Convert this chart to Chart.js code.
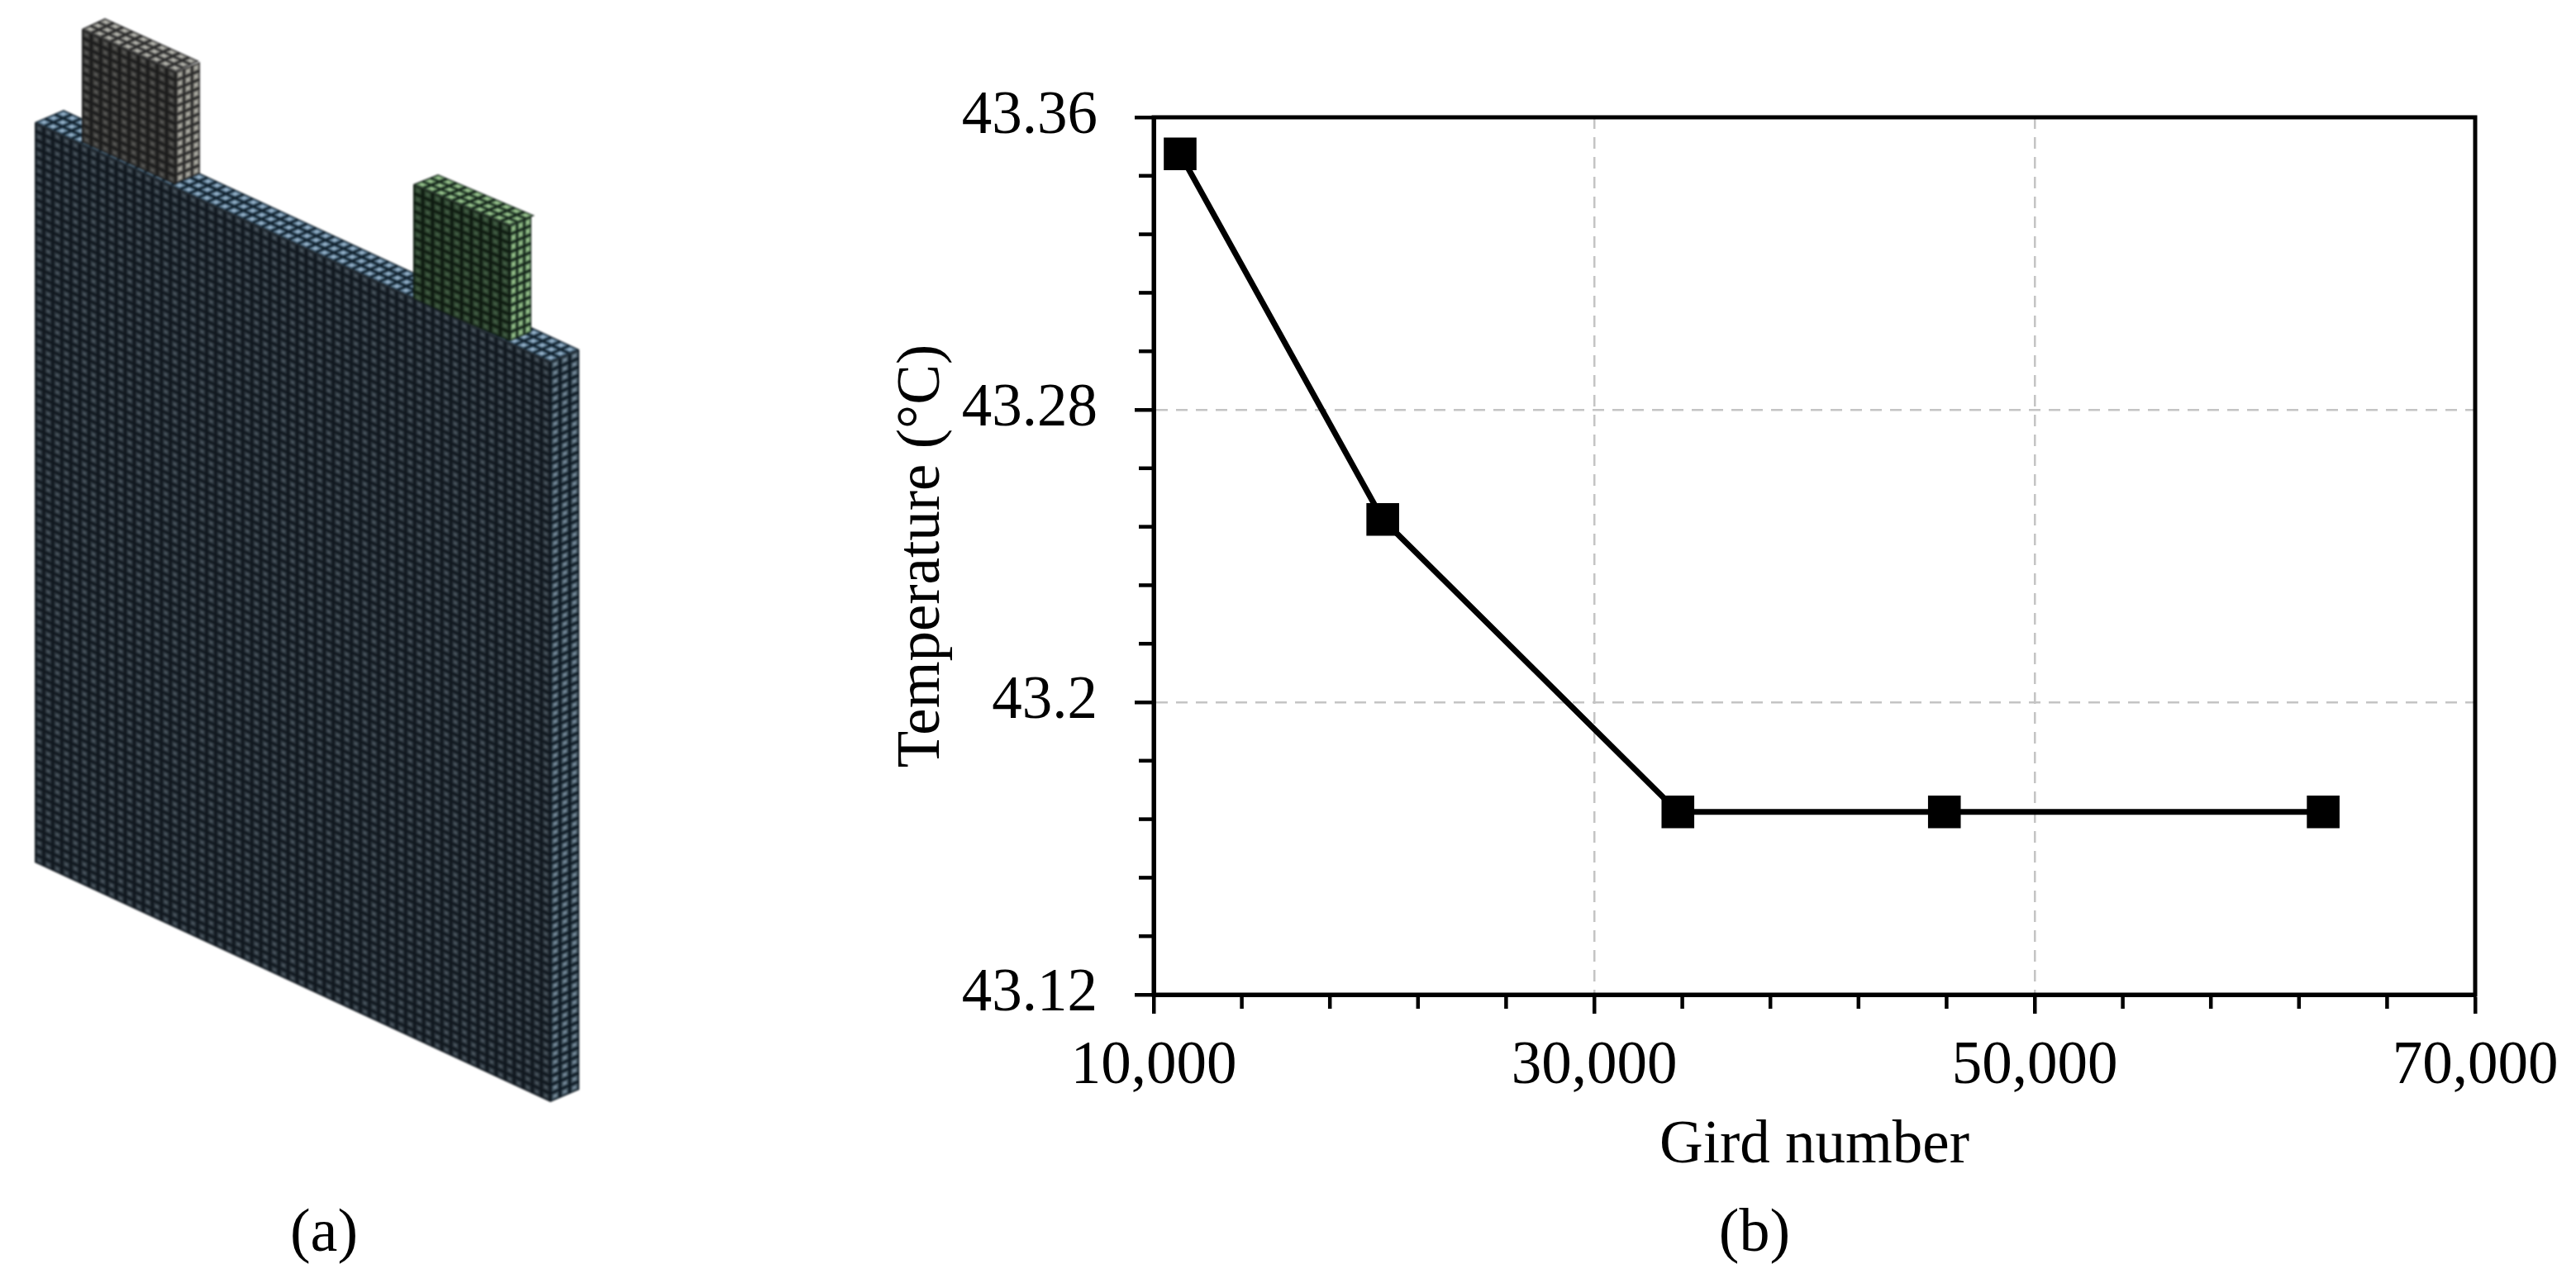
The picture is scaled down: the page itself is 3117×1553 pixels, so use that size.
<!DOCTYPE html>
<html>
<head>
<meta charset="utf-8">
<title>Grid independence</title>
<script src="https://cdn.jsdelivr.net/npm/chart.js@4"></script>
<style>
  html, body { margin: 0; padding: 0; background: #fff; }
  body { width: 3117px; height: 1553px; position: relative; overflow: hidden; }
  canvas { position: absolute; left: 0; top: 0; }
  #mesh { filter: blur(0.8px); }
  .caption {
    position: absolute; top: 1443px; width: 200px; text-align: center;
    font: 74px/92px "Liberation Serif", serif; color: #000;
  }
</style>
</head>
<body>
<canvas id="mesh" width="760" height="1400"></canvas>
<canvas id="myChart" width="3117" height="1553"></canvas>
<div class="caption" style="left: 292px">(a)</div>
<div class="caption" style="left: 2023px">(b)</div>
<script>
// Values
const gridNumbers = [11200, 20400, 33800, 45900, 63100];
const temperatures = [43.35, 43.25, 43.17, 43.17, 43.17];

const xTickValues = [10000, 30000, 50000, 70000];
const xTickLabels = ['10,000', '30,000', '50,000', '70,000'];
const xMinorTicks = [14000, 18000, 22000, 26000, 34000, 38000, 42000, 46000, 54000, 58000, 62000, 66000];

const yTickValues = [43.12, 43.2, 43.28, 43.36];
const yTickLabels = ['43.12', '43.2', '43.28', '43.36'];
const yMinorTicks = [43.136, 43.152, 43.168, 43.184, 43.216, 43.232, 43.248, 43.264, 43.296, 43.312, 43.328, 43.344];

const xTitle = 'Gird number';
const yTitle = 'Temperature (°C)';

// Left panel: the meshed cell is an illustration, not data
const meshCtx = document.getElementById('mesh').getContext('2d');

function drawFace(origin, u, v, nu, nv, lineColor, cellColor, lightColor) {
  meshCtx.fillStyle = lineColor;
  meshCtx.beginPath();
  meshCtx.moveTo(origin[0], origin[1]);
  meshCtx.lineTo(origin[0] + u[0], origin[1] + u[1]);
  meshCtx.lineTo(origin[0] + u[0] + v[0], origin[1] + u[1] + v[1]);
  meshCtx.lineTo(origin[0] + v[0], origin[1] + v[1]);
  meshCtx.closePath();
  meshCtx.fill();

  // one parallelogram per cell, inset so the dark mesh lines stay visible
  function cell(i, j, inset, color) {
    const pt = (a, b) => [
      origin[0] + u[0] * (i + a) / nu + v[0] * (j + b) / nv,
      origin[1] + u[1] * (i + a) / nu + v[1] * (j + b) / nv
    ];
    const corners = [pt(inset, inset), pt(1 - inset, inset), pt(1 - inset, 1 - inset), pt(inset, 1 - inset)];
    meshCtx.fillStyle = color;
    meshCtx.beginPath();
    corners.forEach((c, k) => k ? meshCtx.lineTo(c[0], c[1]) : meshCtx.moveTo(c[0], c[1]));
    meshCtx.closePath();
    meshCtx.fill();
  }
  for (let i = 0; i < nu; i++) {
    for (let j = 0; j < nv; j++) {
      cell(i, j, 0.14, cellColor);
      cell(i, j, 0.32, lightColor);
    }
  }
}

// panel top and side
drawFace([42, 148], [624, 290], [35, -15], 57, 3, '#10202c', '#5f7d94', '#9ab5cc');
drawFace([666, 438], [35, -15], [0, 896], 3, 87, '#0e1a24', '#42545f', '#75899a');
// grey tab
drawFace([99, 35], [114, 52], [28, -13], 10, 3, '#2a2a2a', '#858580', '#b8b8b0');
drawFace([213, 87], [29, -12], [0, 135], 3, 13, '#2a2a2a', '#807f78', '#aeaea6');
drawFace([99, 35], [114, 52], [0, 137], 10, 13, '#1c1c1c', '#383836', '#565654');
// green tab
drawFace([500, 223], [117, 50], [30, -12], 10, 3, '#14241a', '#6c9468', '#a0c894');
drawFace([617, 273], [26, -11], [0, 140], 3, 13, '#14241a', '#6c9468', '#98c08c');
drawFace([500, 223], [117, 50], [0, 140], 10, 13, '#0e1a10', '#2a402c', '#425c44');
// panel front
drawFace([42, 148], [624, 290], [0, 896], 57, 87, '#10171e', '#29333b', '#49545d');

// Right panel: minor ticks and the closed frame are not covered by scale options
const framePlugin = {
  id: 'frame',
  afterDraw(chart) {
    const c = chart.ctx;
    const area = chart.chartArea;
    const x = chart.scales.x;
    const y = chart.scales.y;
    c.save();
    c.strokeStyle = '#000';
    c.lineWidth = 4.5;
    xMinorTicks.forEach(v => {
      c.beginPath();
      c.moveTo(x.getPixelForValue(v), area.bottom);
      c.lineTo(x.getPixelForValue(v), area.bottom + 17);
      c.stroke();
    });
    yMinorTicks.forEach(v => {
      c.beginPath();
      c.moveTo(area.left, y.getPixelForValue(v));
      c.lineTo(area.left - 18, y.getPixelForValue(v));
      c.stroke();
    });
    c.lineWidth = 5;
    c.strokeRect(area.left, area.top, area.right - area.left, area.bottom - area.top);
    c.restore();
  }
};

const tickFont = { family: '"Liberation Serif", serif', size: 73 };
const gridStyle = { color: '#c4c4c4', lineWidth: 2.5, tickColor: '#000', tickWidth: 4.5, tickLength: 23 };
const borderStyle = { color: '#000', width: 5, dash: [14, 10] };

const myChart = new Chart(document.getElementById('myChart'), {
  type: 'scatter',
  data: {
    datasets: [{
      data: gridNumbers.map((g, i) => ({ x: g, y: temperatures[i] })),
      showLine: true,
      borderColor: '#000',
      borderWidth: 7,
      backgroundColor: '#000',
      pointStyle: 'rect',
      pointRadius: 28,
      pointBorderWidth: 0,
      tension: 0
    }]
  },
  plugins: [framePlugin],
  options: {
    responsive: false,
    devicePixelRatio: 1,
    animation: false,
    layout: { padding: { left: 1080, top: 142, right: 122, bottom: 121 } },
    plugins: { legend: { display: false }, tooltip: { enabled: false } },
    scales: {
      x: {
        type: 'linear',
        min: 10000,
        max: 70000,
        afterBuildTicks: scale => { scale.ticks = xTickValues.map(v => ({ value: v })); },
        afterFit: scale => { scale.height = 228; },
        ticks: {
          font: tickFont,
          color: '#000',
          padding: 21,
          maxRotation: 0,
          autoSkip: false,
          callback: value => xTickLabels[xTickValues.indexOf(value)]
        },
        grid: gridStyle,
        border: borderStyle,
        title: {
          display: true,
          text: xTitle,
          color: '#000',
          padding: 0,
          font: { family: '"Liberation Serif", serif', size: 73, lineHeight: 1.2 }
        }
      },
      y: {
        type: 'linear',
        min: 43.12,
        max: 43.36,
        afterBuildTicks: scale => { scale.ticks = yTickValues.map(v => ({ value: v })); },
        afterFit: scale => { scale.width = 316; },
        ticks: {
          font: tickFont,
          color: '#000',
          padding: 45,
          autoSkip: false,
          callback: value => yTickLabels[yTickValues.indexOf(value)]
        },
        grid: gridStyle,
        border: borderStyle,
        title: {
          display: true,
          text: yTitle,
          color: '#000',
          padding: 0,
          font: { family: '"Liberation Serif", serif', size: 73, lineHeight: 1 }
        }
      }
    }
  }
});
</script>
</body>
</html>
